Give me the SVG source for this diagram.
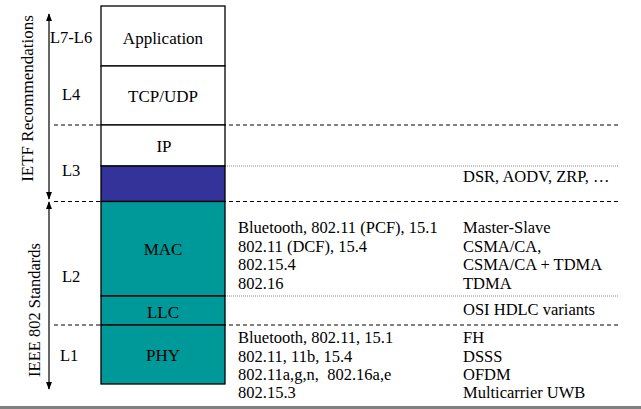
<svg xmlns="http://www.w3.org/2000/svg" width="641" height="409" viewBox="0 0 641 409">
<style>
text{font-family:"Liberation Serif","Times New Roman",serif;font-size:16.5px;fill:#000}
.c{text-anchor:middle;font-size:17px}
.box{stroke:#000;stroke-width:1.3}
.dash{stroke:#000;stroke-width:1;stroke-dasharray:4 3;fill:none}
.dot{stroke:#888;stroke-width:1;stroke-dasharray:1 1;fill:none}
.arr{stroke:#000;stroke-width:1.2;fill:none}
</style>
<defs>
<marker id="ah" viewBox="0 0 10 10" refX="9" refY="5" markerWidth="8" markerHeight="6" orient="auto-start-reverse" markerUnits="userSpaceOnUse" preserveAspectRatio="none">
<path d="M0,0 L10,5 L0,10 z" fill="#000"/>
</marker>
</defs>
<rect width="641" height="409" fill="#fff"/>
<g id="connectors">
<line class="dash" x1="54" y1="125" x2="619" y2="125"/>
<line class="dot" x1="225" y1="166" x2="619" y2="166"/>
<line class="dash" x1="54" y1="201.5" x2="619" y2="201.5"/>
<line class="dot" x1="225" y1="296" x2="619" y2="296"/>
<line class="dash" x1="54" y1="325" x2="619" y2="325"/>
<line class="arr" x1="49" y1="14" x2="49" y2="199" marker-start="url(#ah)" marker-end="url(#ah)"/>
<line class="arr" x1="49" y1="202" x2="49" y2="389" marker-start="url(#ah)" marker-end="url(#ah)"/>
</g>
<g id="application"><rect class="box" x="101" y="6" width="124" height="60" fill="#fff"/><text class="c" x="163" y="44">Application</text></g>
<g id="tcpudp"><rect class="box" x="101" y="66" width="124" height="59" fill="#fff"/><text class="c" x="163" y="102">TCP/UDP</text></g>
<g id="ip"><rect class="box" x="101" y="125" width="124" height="41" fill="#fff"/><text class="c" x="164" y="152">IP</text></g>
<g id="routing"><rect class="box" x="101" y="166" width="124" height="35.5" fill="#333399"/></g>
<g id="mac"><rect class="box" x="101" y="201.5" width="124" height="94.5" fill="#009999"/><text class="c" x="163" y="255">MAC</text></g>
<g id="llc"><rect class="box" x="101" y="296" width="124" height="29" fill="#009999"/><text class="c" x="163" y="318">LLC</text></g>
<g id="phy"><rect class="box" x="101" y="325" width="124" height="59" fill="#009999"/><text class="c" x="163" y="361">PHY</text></g>
<g id="layer-labels">
<text x="50" y="43">L7-L6</text>
<text x="62" y="100">L4</text>
<text x="62" y="176">L3</text>
<text x="62" y="282">L2</text>
<text x="60" y="361">L1</text>
</g>
<g id="side-labels">
<text transform="translate(33,98.5) rotate(-90)" text-anchor="middle" style="font-size:17px">IETF Recommendations</text>
<text transform="translate(39.5,310) rotate(-90)" text-anchor="middle">IEEE 802 Standards</text>
</g>
<g id="l3-text"><text x="463" y="182">DSR, AODV, ZRP, …</text></g>
<g id="mac-text">
<text x="238" y="233">Bluetooth, 802.11 (PCF), 15.1</text>
<text x="238" y="251.5">802.11 (DCF), 15.4</text>
<text x="238" y="270">802.15.4</text>
<text x="238" y="288.5">802.16</text>
<text x="463" y="233">Master-Slave</text>
<text x="463" y="251.5">CSMA/CA,</text>
<text x="463" y="270">CSMA/CA + TDMA</text>
<text x="463" y="288.5">TDMA</text>
</g>
<g id="llc-text"><text x="463" y="315">OSI HDLC variants</text></g>
<g id="phy-text">
<text x="238" y="343">Bluetooth, 802.11, 15.1</text>
<text x="238" y="361.5">802.11, 11b, 15.4</text>
<text x="238" y="380" style="white-space:pre">802.11a,g,n,  802.16a,e</text>
<text x="238" y="398">802.15.3</text>
<text x="463" y="343">FH</text>
<text x="463" y="361.5">DSSS</text>
<text x="463" y="380">OFDM</text>
<text x="463" y="398">Multicarrier UWB</text>
</g>
<rect x="0" y="406" width="641" height="3" fill="#808080"/>
</svg>
